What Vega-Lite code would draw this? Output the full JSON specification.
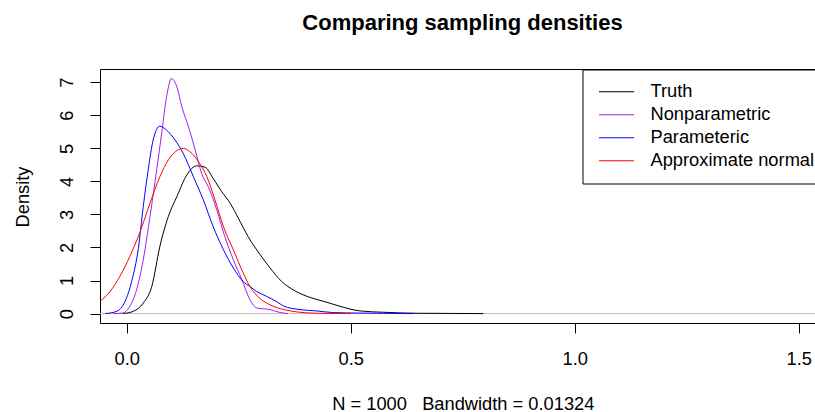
{
  "$schema": "https://vega.github.io/schema/vega-lite/v6.json",
  "width": 715,
  "height": 254,
  "autosize": {"type": "none"},
  "padding": {"left": 100, "top": 69, "right": 0, "bottom": 89},
  "background": "white",
  "config": {
    "font": "Liberation Sans",
    "view": {"stroke": null},
    "axis": {
      "grid": false,
      "domainColor": "black",
      "tickColor": "black",
      "labelColor": "black",
      "titleColor": "black",
      "labelFontSize": 18.3,
      "titleFontSize": 18.3,
      "titleFontWeight": "normal",
      "tickSize": 10,
      "domainWidth": 1,
      "tickWidth": 1
    }
  },
  "title": {
    "text": "Comparing sampling densities",
    "fontSize": 22,
    "fontWeight": "bold",
    "anchor": "middle",
    "baseline": "alphabetic",
    "offset": 17,
    "dx": 5,
    "color": "black"
  },
  "data": {
    "values": [
      {"series": "Truth", "x": -0.008, "y": 0},
      {"series": "Truth", "x": 0.015, "y": 0.07},
      {"series": "Truth", "x": 0.037, "y": 0.32},
      {"series": "Truth", "x": 0.056, "y": 0.82},
      {"series": "Truth", "x": 0.074, "y": 2.03},
      {"series": "Truth", "x": 0.093, "y": 2.94},
      {"series": "Truth", "x": 0.112, "y": 3.54},
      {"series": "Truth", "x": 0.134, "y": 4.19},
      {"series": "Truth", "x": 0.156, "y": 4.47},
      {"series": "Truth", "x": 0.175, "y": 4.43},
      {"series": "Truth", "x": 0.193, "y": 4.09},
      {"series": "Truth", "x": 0.212, "y": 3.69},
      {"series": "Truth", "x": 0.231, "y": 3.34},
      {"series": "Truth", "x": 0.249, "y": 2.89},
      {"series": "Truth", "x": 0.271, "y": 2.33},
      {"series": "Truth", "x": 0.298, "y": 1.78},
      {"series": "Truth", "x": 0.32, "y": 1.38},
      {"series": "Truth", "x": 0.346, "y": 0.97},
      {"series": "Truth", "x": 0.374, "y": 0.7},
      {"series": "Truth", "x": 0.409, "y": 0.49},
      {"series": "Truth", "x": 0.445, "y": 0.35},
      {"series": "Truth", "x": 0.476, "y": 0.22},
      {"series": "Truth", "x": 0.521, "y": 0.08},
      {"series": "Truth", "x": 0.573, "y": 0.04},
      {"series": "Truth", "x": 0.647, "y": 0.01},
      {"series": "Truth", "x": 0.72, "y": 0.005},
      {"series": "Truth", "x": 0.796, "y": 0},
      {"series": "Nonparametric", "x": -0.03, "y": 0},
      {"series": "Nonparametric", "x": -0.008, "y": 0.02},
      {"series": "Nonparametric", "x": 0.007, "y": 0.22},
      {"series": "Nonparametric", "x": 0.022, "y": 0.72},
      {"series": "Nonparametric", "x": 0.037, "y": 1.63},
      {"series": "Nonparametric", "x": 0.052, "y": 2.94},
      {"series": "Nonparametric", "x": 0.067, "y": 4.35},
      {"series": "Nonparametric", "x": 0.078, "y": 5.45},
      {"series": "Nonparametric", "x": 0.089, "y": 6.56},
      {"series": "Nonparametric", "x": 0.1, "y": 7.11},
      {"series": "Nonparametric", "x": 0.112, "y": 6.86},
      {"series": "Nonparametric", "x": 0.123, "y": 6.26},
      {"series": "Nonparametric", "x": 0.138, "y": 5.65},
      {"series": "Nonparametric", "x": 0.153, "y": 4.95},
      {"series": "Nonparametric", "x": 0.167, "y": 4.25},
      {"series": "Nonparametric", "x": 0.182, "y": 3.84},
      {"series": "Nonparametric", "x": 0.201, "y": 3.14},
      {"series": "Nonparametric", "x": 0.219, "y": 2.33},
      {"series": "Nonparametric", "x": 0.238, "y": 1.63},
      {"series": "Nonparametric", "x": 0.257, "y": 1.03},
      {"series": "Nonparametric", "x": 0.275, "y": 0.42},
      {"series": "Nonparametric", "x": 0.29, "y": 0.17},
      {"series": "Nonparametric", "x": 0.32, "y": 0.12},
      {"series": "Nonparametric", "x": 0.34, "y": 0.04},
      {"series": "Nonparametric", "x": 0.36, "y": 0},
      {"series": "Parameteric", "x": -0.048, "y": 0},
      {"series": "Parameteric", "x": -0.022, "y": 0.07},
      {"series": "Parameteric", "x": -0.004, "y": 0.36},
      {"series": "Parameteric", "x": 0.011, "y": 0.97},
      {"series": "Parameteric", "x": 0.026, "y": 1.97},
      {"series": "Parameteric", "x": 0.037, "y": 3.24},
      {"series": "Parameteric", "x": 0.048, "y": 4.35},
      {"series": "Parameteric", "x": 0.059, "y": 5.25},
      {"series": "Parameteric", "x": 0.074, "y": 5.67},
      {"series": "Parameteric", "x": 0.089, "y": 5.55},
      {"series": "Parameteric", "x": 0.108, "y": 5.25},
      {"series": "Parameteric", "x": 0.126, "y": 4.85},
      {"series": "Parameteric", "x": 0.149, "y": 4.14},
      {"series": "Parameteric", "x": 0.171, "y": 3.44},
      {"series": "Parameteric", "x": 0.193, "y": 2.63},
      {"series": "Parameteric", "x": 0.216, "y": 1.93},
      {"series": "Parameteric", "x": 0.238, "y": 1.38},
      {"series": "Parameteric", "x": 0.26, "y": 0.97},
      {"series": "Parameteric", "x": 0.275, "y": 0.82},
      {"series": "Parameteric", "x": 0.29, "y": 0.67},
      {"series": "Parameteric", "x": 0.3125, "y": 0.52},
      {"series": "Parameteric", "x": 0.335, "y": 0.36},
      {"series": "Parameteric", "x": 0.35, "y": 0.23},
      {"series": "Parameteric", "x": 0.387, "y": 0.12},
      {"series": "Parameteric", "x": 0.424, "y": 0.08},
      {"series": "Parameteric", "x": 0.461, "y": 0.03},
      {"series": "Parameteric", "x": 0.52, "y": 0.015},
      {"series": "Parameteric", "x": 0.573, "y": 0.01},
      {"series": "Parameteric", "x": 0.64, "y": 0},
      {"series": "Approximate normal", "x": -0.0596, "y": 0.37},
      {"series": "Approximate normal", "x": -0.037, "y": 0.67},
      {"series": "Approximate normal", "x": -0.015, "y": 1.13},
      {"series": "Approximate normal", "x": 0.007, "y": 1.73},
      {"series": "Approximate normal", "x": 0.03, "y": 2.48},
      {"series": "Approximate normal", "x": 0.052, "y": 3.34},
      {"series": "Approximate normal", "x": 0.074, "y": 4.14},
      {"series": "Approximate normal", "x": 0.093, "y": 4.65},
      {"series": "Approximate normal", "x": 0.112, "y": 4.93},
      {"series": "Approximate normal", "x": 0.126, "y": 5.0},
      {"series": "Approximate normal", "x": 0.141, "y": 4.9},
      {"series": "Approximate normal", "x": 0.16, "y": 4.6},
      {"series": "Approximate normal", "x": 0.179, "y": 4.14},
      {"series": "Approximate normal", "x": 0.197, "y": 3.44},
      {"series": "Approximate normal", "x": 0.216, "y": 2.63},
      {"series": "Approximate normal", "x": 0.238, "y": 1.93},
      {"series": "Approximate normal", "x": 0.26, "y": 1.23},
      {"series": "Approximate normal", "x": 0.275, "y": 0.82},
      {"series": "Approximate normal", "x": 0.298, "y": 0.45},
      {"series": "Approximate normal", "x": 0.315, "y": 0.3},
      {"series": "Approximate normal", "x": 0.335, "y": 0.18},
      {"series": "Approximate normal", "x": 0.355, "y": 0.11},
      {"series": "Approximate normal", "x": 0.38, "y": 0.05},
      {"series": "Approximate normal", "x": 0.424, "y": 0.01},
      {"series": "Approximate normal", "x": 0.5, "y": 0}
    ]
  },
  "encoding": {
    "y": {
      "field": "y", "type": "quantitative",
      "scale": {"domain": [-0.285, 7.4], "nice": false, "zero": false},
      "axis": {
        "values": [0, 1, 2, 3, 4, 5, 6, 7],
        "format": "d",
        "labelAngle": 270,
        "labelAlign": "center",
        "labelBaseline": "alphabetic",
        "labelPadding": 18,
        "labelOverlap": false,
        "labelFlush": false,
        "title": "Density",
        "titleX": -72,
        "titleY": 127.5,
        "titleAngle": 270,
        "titleAlign": "center",
        "titleBaseline": "alphabetic"
      }
    }
  },
  "layer": [
    {
      "data": {"values": [{"y": 0}]},
      "mark": {"type": "rule", "color": "#BEBEBE", "strokeWidth": 1},
      "encoding": {
        "x": {"datum": -0.0596, "type": "quantitative", "scale": {"domain": [-0.0596, 1.5364], "nice": false, "zero": false},
              "axis": {"orient": "top", "labels": false, "ticks": false, "domain": true, "title": null, "grid": false}},
        "x2": {"datum": 1.5364}
      }
    },
    {
      "mark": {"type": "line", "clip": true, "strokeWidth": 1, "interpolate": "monotone"},
      "encoding": {
        "x": {
          "field": "x", "type": "quantitative",
          "scale": {"domain": [-0.0596, 1.5364], "nice": false, "zero": false},
          "axis": {
            "orient": "bottom",
            "values": [0, 0.5, 1, 1.5],
            "format": ".1f",
            "labelBaseline": "alphabetic",
            "labelPadding": 31,
            "labelFlush": false,
            "labelOverlap": false,
            "title": "N = 1000 \u00a0 Bandwidth = 0.01324",
            "titleX": 362.8,
            "titleY": 86,
            "titleAlign": "center",
            "titleBaseline": "alphabetic",
            "titleAngle": 0
          }
        },
        "color": {
          "field": "series", "type": "nominal",
          "scale": {"domain": ["Truth", "Nonparametric", "Parameteric", "Approximate normal"],
                    "range": ["#000000", "#A020F0", "#0000FF", "#FF0000"]},
          "legend": {
            "orient": "none",
            "legendX": 482.5,
            "legendY": 0.5,
            "title": null,
            "symbolType": "stroke",
            "symbolSize": 1225,
            "symbolStrokeWidth": 1,
            "symbolOffset": 5,
            "clipHeight": 22.5,
            "labelFontSize": 18.3,
            "labelColor": "black",
            "labelLimit": 400,
            "labelOffset": 16,
            "strokeColor": "black",
            "fillColor": "white",
            "padding": 11,
            "rowPadding": 0
          }
        }
      }
    }
  ],
  "resolve": {"axis": {"x": "independent"}}
}
